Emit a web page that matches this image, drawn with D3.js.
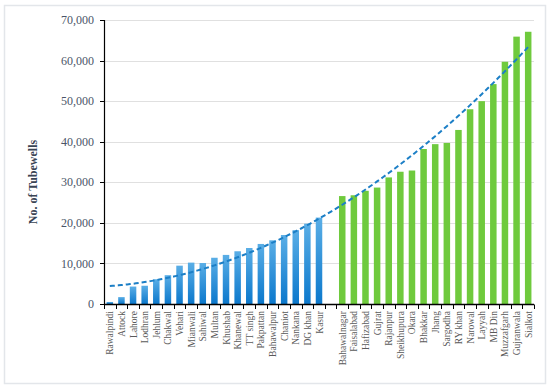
<!DOCTYPE html>
<html>
<head>
<meta charset="utf-8">
<script src="https://cdn.jsdelivr.net/npm/d3@7"></script>
<style>
  body { margin: 0; background: #fff; }
  svg { display: block; }
</style>
</head>
<body>
<div id="chart"></div>
<script>
// districts in chart order, "" is the empty slot between the two groups
const districts = ["Rawalpindi", "Attock", "Lahore", "Lodhran", "Jehlum", "Chakwal", "Vehari", "Mianwali",
  "Sahiwal", "Multan", "Khushab", "Khanewal", "TT singh", "Pakpattan", "Bahawalpur", "Chaniot", "Nankana",
  "DG khan", "Kasur", "",
  "Bahawalnagar", "Faisalabad", "Hafizabad", "Gujrat", "Rajanpur", "Sheikhupura", "Okara", "Bhakkar", "Jhang",
  "Sargodha", "RY khan", "Narowal", "Layyah", "MB Din", "Muzzafgarh", "Gujranwala", "Sialkot"];
const tubewells = [500, 1700, 4300, 4500, 6100, 7100, 9450, 10200,
  10100, 11400, 12100, 13000, 13800, 14800, 15700, 17000, 18200,
  19800, 21300, null,
  26600, 26800, 27900, 28700, 31200, 32600, 32900, 38200, 39400,
  39700, 42900, 48000, 50000, 54200, 59700, 65900, 67100];
// 0 = blue group, 1 = green group
const group = districts.map((d, i) => i < 19 ? 0 : 1);
const yTicks = [0, 10000, 20000, 30000, 40000, 50000, 60000, 70000];

var width = 550, height = 389;
var margin = { top: 20, right: 16, bottom: 85, left: 104 };

var svg = d3.select("#chart").append("svg")
    .attr("width", width)
    .attr("height", height);

// outer frame
svg.append("rect")
    .attr("x", 4.5).attr("y", 5.5)
    .attr("width", 541).attr("height", 378)
    .attr("fill", "#fff")
    .attr("stroke", "#e3e6ea")
    .attr("stroke-width", 1.5);

var defs = svg.append("defs");
var grad = defs.append("linearGradient")
    .attr("id", "blueGrad")
    .attr("x1", 0).attr("y1", 0).attr("x2", 0).attr("y2", 1);
grad.append("stop").attr("offset", "0%").attr("stop-color", "#5aaee6");
grad.append("stop").attr("offset", "100%").attr("stop-color", "#0b78cc");

var x = d3.scaleBand()
    .domain(d3.range(districts.length))
    .range([104, 534])
    .paddingInner(0.44)
    .paddingOuter(0.22);

var y = d3.scaleLinear()
    .domain([0, 70000])
    .range([304, 20]);

// gridlines
svg.append("g")
    .selectAll("line")
    .data(yTicks.slice(1))
    .enter()
    .append("line")
    .attr("x1", 104).attr("x2", 534)
    .attr("y1", d => Math.round(y(d)) + 0.5)
    .attr("y2", d => Math.round(y(d)) + 0.5)
    .attr("stroke", "#e0e0e0")
    .attr("stroke-width", 1.2);

// bars
svg.append("g")
    .selectAll("rect")
    .data(tubewells.map((v, i) => ({ v: v, i: i })).filter(d => d.v !== null))
    .enter()
    .append("rect")
    .attr("x", d => x(d.i))
    .attr("width", x.bandwidth())
    .attr("y", d => y(d.v))
    .attr("height", d => y(0) - y(d.v))
    .attr("fill", d => group[d.i] === 0 ? "url(#blueGrad)" : "#6fca3d");

// polynomial (order 2) trendline, least squares over the bar values
const pts = tubewells.map((v, i) => [i, v]).filter(p => p[1] !== null);
const fitQuad = function (points) {
    let s = [0, 0, 0, 0, 0], t = [0, 0, 0];
    points.forEach(p => {
        let xi = p[0], yi = p[1];
        for (let k = 0; k < 5; k++) s[k] += Math.pow(xi, k);
        for (let k = 0; k < 3; k++) t[k] += yi * Math.pow(xi, k);
    });
    // solve 3x3 normal equations
    let A = [[s[0], s[1], s[2], t[0]], [s[1], s[2], s[3], t[1]], [s[2], s[3], s[4], t[2]]];
    for (let c = 0; c < 3; c++) {
        for (let r = c + 1; r < 3; r++) {
            let f = A[r][c] / A[c][c];
            for (let k = c; k < 4; k++) A[r][k] -= f * A[c][k];
        }
    }
    let coef = [0, 0, 0];
    for (let r = 2; r >= 0; r--) {
        let sum = A[r][3];
        for (let k = r + 1; k < 3; k++) sum -= A[r][k] * coef[k];
        coef[r] = sum / A[r][r];
    }
    return coef;
};
const coef = fitQuad(pts);
const trend = d3.range(0, districts.length - 1 + 0.01, 0.25).map(i => [i, coef[0] + coef[1] * i + coef[2] * i * i]);

var line = d3.line()
    .x(d => x(0) + x.bandwidth() / 2 + d[0] * x.step())
    .y(d => y(d[1]));
svg.append("path")
    .datum(trend)
    .attr("d", line)
    .attr("fill", "none")
    .attr("stroke", "#1c7fc6")
    .attr("stroke-width", 2)
    .attr("stroke-dasharray", "5,3");

// y axis
svg.append("line")
    .attr("x1", 104.5).attr("x2", 104.5)
    .attr("y1", 20).attr("y2", 304)
    .attr("stroke", "#000").attr("stroke-width", 1.2);
var yAxis = svg.append("g");
yAxis.selectAll("line")
    .data(yTicks)
    .enter()
    .append("line")
    .attr("x1", 100).attr("x2", 104.5)
    .attr("y1", d => Math.round(y(d)) + 0.5)
    .attr("y2", d => Math.round(y(d)) + 0.5)
    .attr("stroke", "#000");
yAxis.selectAll("text")
    .data(yTicks)
    .enter()
    .append("text")
    .attr("x", 94)
    .attr("y", d => y(d))
    .attr("dy", "0.35em")
    .attr("text-anchor", "end")
    .style("font-family", "'Liberation Serif', 'Times New Roman', serif")
    .style("font-size", "12px")
    .style("fill", "#4a5568")
    .text(d => d3.format(",")(d));

// x axis
svg.append("line")
    .attr("x1", 104).attr("x2", 534)
    .attr("y1", 304.5).attr("y2", 304.5)
    .attr("stroke", "#000").attr("stroke-width", 1.3);
var xAxis = svg.append("g");
xAxis.selectAll("line")
    .data(d3.range(districts.length + 1))
    .enter()
    .append("line")
    .attr("x1", i => Math.round(104 + i * x.step() * (430 / (x.step() * districts.length))) + 0.5)
    .attr("x2", i => Math.round(104 + i * x.step() * (430 / (x.step() * districts.length))) + 0.5)
    .attr("y1", 304.5).attr("y2", 309)
    .attr("stroke", "#000");
xAxis.selectAll("text")
    .data(districts.map((d, i) => ({ d: d, i: i })).filter(d => d.d !== ""))
    .enter()
    .append("text")
    .attr("transform", d => "translate(" + (x(d.i) + x.bandwidth() / 2 + 3.5) + ",311) rotate(-90)")
    .attr("text-anchor", "end")
    .style("font-family", "'Liberation Serif', 'Times New Roman', serif")
    .style("font-size", "9.5px")
    .style("fill", "#595959")
    .text(d => d.d);

// y axis title
svg.append("text")
    .attr("transform", "translate(37,182) rotate(-90)")
    .attr("text-anchor", "middle")
    .style("font-family", "'Liberation Serif', 'Times New Roman', serif")
    .style("font-size", "12px")
    .style("font-weight", "bold")
    .style("fill", "#3a4454")
    .text("No. of Tubewells");
</script>
</body>
</html>
